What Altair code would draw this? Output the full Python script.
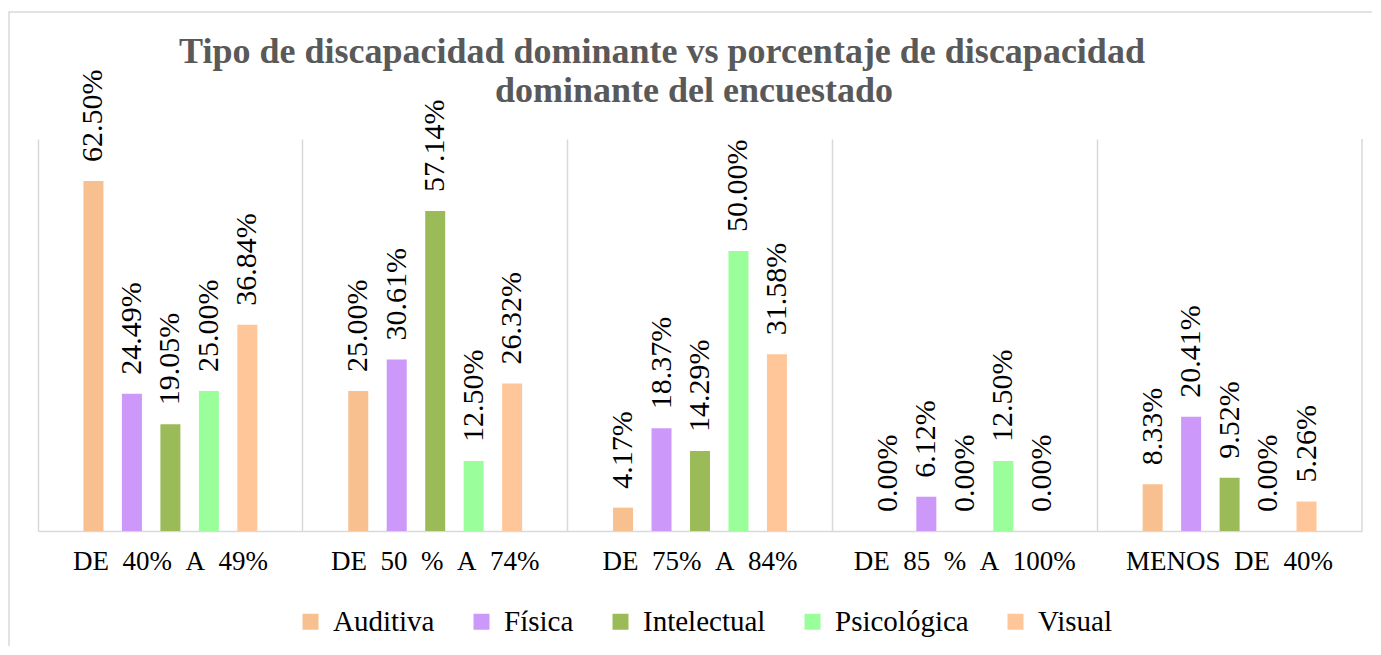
import altair as alt
import pandas as pd

groups = ["DE 40% A 49%", "DE 50 % A 74%", "DE 75% A 84%", "DE 85 % A 100%", "MENOS DE 40%"]
series = ["Auditiva", "Física", "Intelectual", "Psicológica", "Visual"]
auditiva = [62.50, 25.00, 4.17, 0.00, 8.33]
fisica = [24.49, 30.61, 18.37, 6.12, 20.41]
intelectual = [19.05, 57.14, 14.29, 0.00, 9.52]
psicologica = [25.00, 12.50, 50.00, 12.50, 0.00]
visual = [36.84, 26.32, 31.58, 0.00, 5.26]
colors = ["#F8BF8F", "#CC99FA", "#9BBB59", "#9AFF9A", "#FFC699"]
title_lines = ["Tipo de discapacidad dominante vs porcentaje de discapacidad",
               "dominante  del  encuestado"]

vals = [auditiva, fisica, intelectual, psicologica, visual]
rows = []
for s, v in zip(series, vals):
    for g, x in zip(groups, v):
        rows.append({"grupo": g, "tipo": s, "valor": x})
df = pd.DataFrame(rows)

W, H = 1324, 392
FONT = "Liberation Serif"

base = alt.Chart(df).encode(
    x=alt.X("grupo:N", sort=groups, title=None,
            scale=alt.Scale(paddingInner=0, paddingOuter=0),
            axis=alt.Axis(labelAngle=0, labelFont=FONT, labelFontSize=27, labelColor="#000000",
                          labelPadding=17, labelLimit=400, ticks=False, domainColor="#D9D9D9",
                          domainWidth=1.5, grid=True, bandPosition=0, gridColor="#D9D9D9",
                          gridWidth=1.5,
                          labelExpr="replace(datum.label, / /g, '\u00a0\u00a0')")),
    xOffset=alt.XOffset("tipo:N", sort=series,
                        scale=alt.Scale(paddingInner=0.117, paddingOuter=1)),
    y=alt.Y("valor:Q", scale=alt.Scale(domain=[0, 70]), axis=None),
)

bars = base.mark_bar(width=20).encode(
    color=alt.Color("tipo:N", sort=series,
                    scale=alt.Scale(domain=series, range=colors),
                    legend=alt.Legend(title=None, orient="none", direction="horizontal",
                                      legendX=258, legendY=468, symbolType="square",
                                      symbolSize=256, symbolStrokeWidth=0, labelFont=FONT,
                                      labelFontSize=29, labelColor="#000000", columnPadding=32,
                                      labelOffset=8))
)

labels = base.transform_calculate(
    lab="format(datum.valor, '.2f') + '%'"
).mark_text(angle=270, align="left", baseline="middle", dx=19, font=FONT,
            fontSize=30, color="#000000").encode(text="lab:N")

one = pd.DataFrame({"a": [0]})

edge = alt.Chart(one).mark_rule(color="#D9D9D9", strokeWidth=1.5).encode(
    x=alt.value(W), y=alt.value(0), y2=alt.value(H))

frame = alt.Chart(one).mark_rect(
    fill=None, stroke="#D9D9D9", strokeWidth=1.5).encode(
    x=alt.value(-29), y=alt.value(-127), x2=alt.value(1400), y2=alt.value(700))

t1 = alt.Chart(one).mark_text(font=FONT, fontSize=36, fontWeight="bold", color="#595959",
                              align="center", baseline="middle").encode(
    x=alt.value(624), y=alt.value(-87), text=alt.value(title_lines[0]))
t2 = alt.Chart(one).mark_text(font=FONT, fontSize=36, fontWeight="bold", color="#595959",
                              align="center", baseline="middle").encode(
    x=alt.value(656), y=alt.value(-48), text=alt.value(title_lines[1]))

chart = alt.layer(frame, bars, labels, edge, t1, t2).properties(
    width=W, height=H,
    autosize=alt.AutoSizeParams(type="none"),
    padding={"left": 30, "top": 131, "right": 10, "bottom": 115},
).configure_view(stroke=None).configure_text(font=FONT)

chart.save("out.html", embed_options={"renderer": "svg", "actions": False})
